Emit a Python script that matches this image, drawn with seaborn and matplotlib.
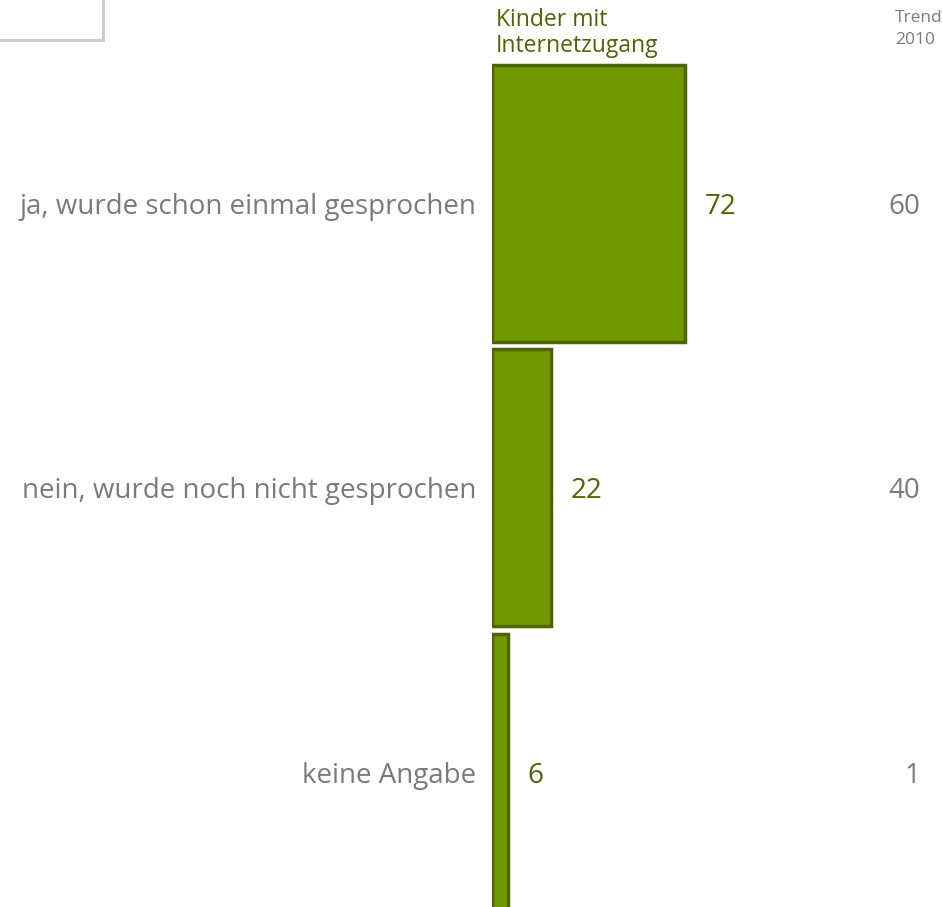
import matplotlib
matplotlib.use("Agg")
import matplotlib.pyplot as plt
import seaborn as sns
import pandas as pd
from matplotlib.patches import Rectangle

# data
categories = ["ja, wurde schon einmal gesprochen",
              "nein, wurde noch nicht gesprochen",
              "keine Angabe"]
values = [72, 22, 6]
trend_2010 = [60, 40, 1]

sns.set_style("white")
plt.rcParams['font.family'] = ['Open Sans', 'DejaVu Sans']

bar_color = "#739900"
edge_color = "#4d6600"
green_text = "#4d6600"
gray_text = "#7a7a7a"

df = pd.DataFrame({"cat": categories, "val": values})

fig = plt.figure(figsize=(9.42, 9.07), dpi=100)
ax = fig.add_axes([492 / 942, 0, 450 / 942, 1])

sns.barplot(data=df, x="val", y="cat", orient="h", color=bar_color,
            width=0.974, saturation=1, edgecolor=edge_color, linewidth=2.5, ax=ax)

ax.set_xlim(0, 450 / 2.68)
ax.set_ylim(2.474, -0.715)
ax.set_xlabel("")
ax.set_ylabel("")
ax.set_xticks([])
ax.set_yticks([])
sns.despine(ax=ax, left=True, bottom=True)

for i, (cat, v, t) in enumerate(zip(categories, values, trend_2010)):
    # category label left of bars
    ax.annotate(cat, xy=(0, i), xytext=(-11.5, -2.5), textcoords="offset points",
                ha="right", va="center", fontsize=20, color=gray_text,
                annotation_clip=False)
    # value label after bar end
    ax.annotate(str(v), xy=(v, i), xytext=(14, -2.5), textcoords="offset points",
                ha="left", va="center", fontsize=20, color=green_text)
    # trend values at right
    ax.annotate(str(t), xy=(920 / 942, i), xycoords=("figure fraction", "data"),
                xytext=(0, -2.5), textcoords="offset points",
                ha="right", va="center", fontsize=20, color=gray_text)

fig.text(496 / 942, 1 - 8 / 907, "Kinder mit\nInternetzugang", ha="left", va="top",
         fontsize=16.5, color=green_text, linespacing=1.12)
fig.text(895 / 942, 1 - 10 / 907, "Trend\n2010", ha="left", va="top",
         fontsize=12.5, color=gray_text, linespacing=1.5)

# small box in the top left corner
fig.patches.append(Rectangle((-0.01, 1 - 40 / 907), (103 / 942) + 0.01, 0.1,
                             transform=fig.transFigure, fill=False,
                             edgecolor="#c8c8c8", linewidth=2))

fig.savefig("out.png", dpi=100)
